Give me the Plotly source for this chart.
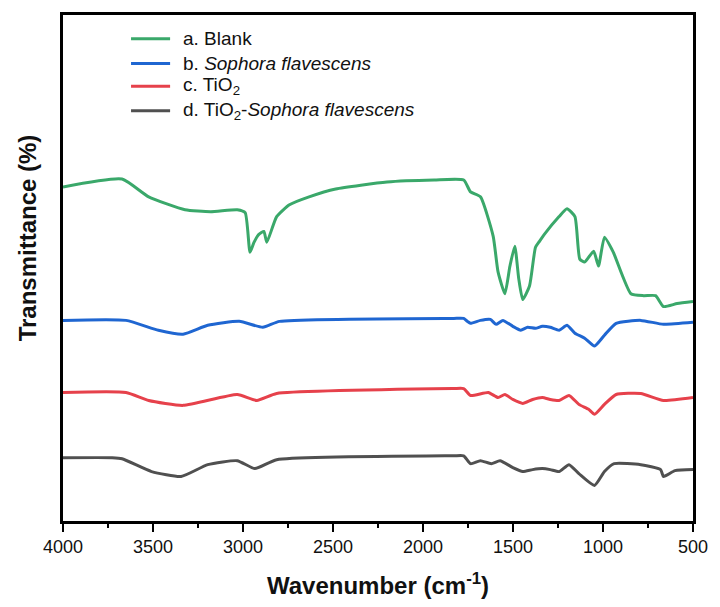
import plotly.graph_objects as go

# Blank
wn_a = [4000, 3672, 3524, 3322, 3180, 3032, 2988, 2961, 2939, 2912, 2884, 2868, 2813, 2742, 2633, 2485, 2200, 1938, 1774,
        1736, 1681, 1610, 1583, 1545, 1517, 1490, 1468, 1446, 1408, 1375, 1353, 1326, 1244, 1200, 1156, 1129, 1102, 1052,
        1025, 992, 943, 845, 774, 708, 664, 588, 500]
t_a = [338, 346, 328, 315, 313, 315, 312, 272, 282, 290, 293, 282, 308, 320, 328, 336, 343, 345, 345,
       333, 328, 288, 252, 230, 258, 278, 245, 224, 238, 277, 283, 290, 308, 316, 308, 265, 262, 273,
       258, 287, 272, 230, 228, 228, 217, 220, 222]

# Sophora flavescens
wn_b = [4000, 3650, 3470, 3333, 3196, 3021, 2890, 2797, 1829, 1774, 1754, 1736, 1681, 1626, 1594, 1556, 1501, 1457,
        1419, 1375, 1337, 1293, 1244, 1200, 1156, 1102, 1047, 992, 927, 790, 664, 500]
t_b = [203, 203, 193, 189, 198, 202, 196, 202, 205, 205, 202, 200, 203, 204, 199, 203, 197, 193,
       196, 195, 197, 196, 193, 198, 190, 185, 177, 188, 200, 203, 199, 201]

# TiO2
wn_c = [4000, 3650, 3524, 3333, 3032, 2923, 2813, 1829, 1774, 1736, 1637, 1583, 1545, 1501, 1446, 1391, 1337, 1293,
        1244, 1189, 1134, 1080, 1047, 992, 927, 790, 664, 500]
t_c = [130, 130, 122, 117, 128, 122, 129, 134, 134, 127, 130, 125, 128, 123, 119, 123, 125, 123,
       122, 127, 118, 113, 108, 118, 128, 129, 122, 125]

# TiO2-Sophora flavescens
wn_d = [4000, 3727, 3672, 3508, 3344, 3196, 3032, 2934, 2813, 1829, 1774, 1736, 1681, 1621, 1572, 1501, 1446, 1391,
        1337, 1293, 1244, 1189, 1134, 1047, 992, 938, 790, 680, 664, 600, 500]
t_d = [64, 64, 63, 50, 45, 57, 61, 53, 62, 66, 66, 58, 61, 58, 61, 54, 50, 52,
       53, 52, 50, 57, 48, 36, 50, 58, 57, 52, 45, 51, 52]

names = ["a. Blank", "b. <i>Sophora flavescens</i>", "c. TiO<sub>2</sub>",
         "d. TiO<sub>2</sub>-<i>Sophora flavescens</i>"]
colors = ["#3aa86a", "#1f66d1", "#e6414b", "#505050"]
series = [(wn_a, t_a), (wn_b, t_b), (wn_c, t_c), (wn_d, t_d)]
x_ticks = [4000, 3500, 3000, 2500, 2000, 1500, 1000, 500]

FONT = "Arial, Liberation Sans, sans-serif"

fig = go.Figure()
for (x, y), n, c in zip(series, names, colors):
    fig.add_trace(go.Scatter(x=x, y=y, mode="lines", name=n,
                             line=dict(color=c, width=3, shape="spline", smoothing=0.5),
                             showlegend=False))

# custom legend
leg_y = [0.953, 0.904, 0.859, 0.811]
for n, c, ly in zip(names, colors, leg_y):
    fig.add_shape(type="line", xref="paper", yref="paper", x0=0.108, x1=0.170, y0=ly, y1=ly,
                  line=dict(color=c, width=3))
    fig.add_annotation(xref="paper", yref="paper", x=0.1875, y=ly, text=n, showarrow=False,
                       xanchor="left", yanchor="middle", font=dict(size=19, color="#111", family=FONT))

# y-axis title (placed slightly above the plot centre, as in the original)
fig.add_annotation(xref="paper", yref="paper", x=-0.056, y=0.56, text="<b>Transmittance (%)</b>",
                   textangle=-90, showarrow=False, xanchor="center", yanchor="middle",
                   font=dict(size=24, color="#111", family=FONT))

fig.update_xaxes(range=[4000, 500], tickvals=x_ticks, ticktext=[str(v) for v in x_ticks],
                 ticks="outside", ticklen=8, tickwidth=2, tickcolor="black",
                 minor=dict(tickvals=[3750, 3250, 2750, 2250, 1750, 1250, 750], ticks="outside",
                            ticklen=4, tickwidth=2, tickcolor="black"),
                 showline=True, linewidth=2.5, linecolor="black", mirror=True, showgrid=False,
                 zeroline=False, tickfont=dict(size=18, color="#111", family=FONT),
                 title=dict(text="<b>Wavenumber (cm<sup>-1</sup>)</b>", standoff=21,
                            font=dict(size=24, color="#111", family=FONT)))
fig.update_yaxes(range=[0, 512], showticklabels=False, ticks="", showline=True, linewidth=2.5,
                 linecolor="black", mirror=True, showgrid=False, zeroline=False)
fig.update_layout(width=720, height=607, margin=dict(l=63, r=17, t=13, b=82),
                  plot_bgcolor="white", paper_bgcolor="white", font=dict(family=FONT))
fig.write_html("out.html")
